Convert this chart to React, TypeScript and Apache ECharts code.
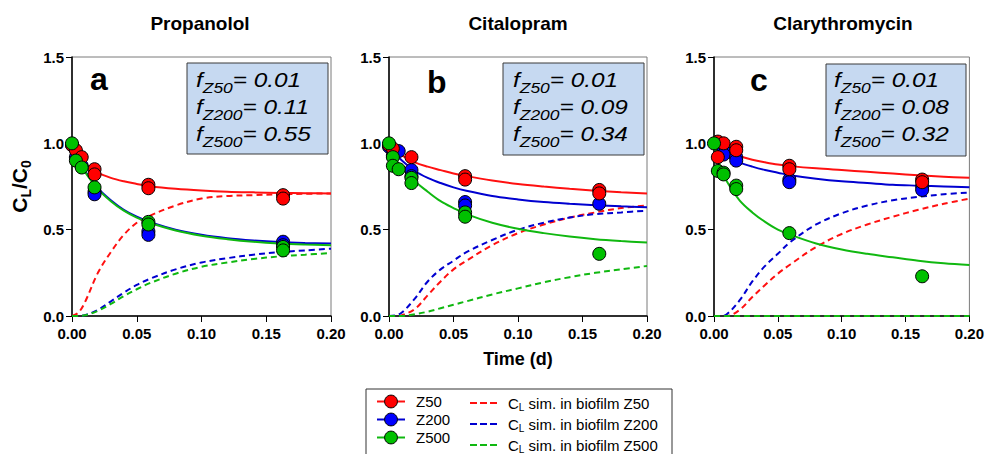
import React, { useEffect, useRef } from 'react';
import * as echarts from 'echarts';

const FONT = "'Liberation Sans', Arial, Helvetica, sans-serif";

const TITLES = ['Propanolol', 'Citalopram', 'Clarythromycin'];
const LETTERS = ['a', 'b', 'c'];
const GROUPS = ['Z50', 'Z200', 'Z500'];
const SIM_NAMES = ['CL sim. in biofilm Z50', 'CL sim. in biofilm Z200', 'CL sim. in biofilm Z500'];
const FIT_NAMES = ['Z50 fit', 'Z200 fit', 'Z500 fit'];

// f values per panel
const F_A = ['0.01', '0.11', '0.55'];
const F_B = ['0.01', '0.09', '0.34'];
const F_C = ['0.01', '0.08', '0.32'];

// measured points [time (d), CL/C0]
const PTS_A_Z50 = [[0, 0.99], [0.003, 0.96], [0.0075, 0.92], [0.0174, 0.85], [0.0174, 0.82], [0.059, 0.76], [0.059, 0.74], [0.163, 0.70], [0.163, 0.68]];
const PTS_A_Z200 = [[0, 0.99], [0.003, 0.92], [0.0075, 0.87], [0.0174, 0.72], [0.0174, 0.705], [0.059, 0.49], [0.059, 0.47], [0.163, 0.43], [0.163, 0.41]];
const PTS_A_Z500 = [[0, 1.0], [0.003, 0.90], [0.0075, 0.86], [0.0174, 0.745], [0.059, 0.545], [0.059, 0.53], [0.163, 0.40], [0.163, 0.38]];

const PTS_B_Z50 = [[0, 0.99], [0.003, 0.97], [0.0174, 0.92], [0.059, 0.81], [0.059, 0.79], [0.163, 0.73], [0.163, 0.71]];
const PTS_B_Z200 = [[0, 0.98], [0.003, 0.93], [0.0075, 0.955], [0.0174, 0.845], [0.0174, 0.81], [0.059, 0.66], [0.059, 0.64], [0.163, 0.65]];
const PTS_B_Z500 = [[0, 1.0], [0.003, 0.92], [0.003, 0.87], [0.0075, 0.85], [0.0174, 0.80], [0.0174, 0.77], [0.059, 0.60], [0.059, 0.575], [0.163, 0.36]];

const PTS_C_Z50 = [[0.003, 1.01], [0.0075, 1.0], [0.003, 0.92], [0.0174, 0.98], [0.0174, 0.96], [0.059, 0.87], [0.059, 0.85], [0.163, 0.79], [0.163, 0.775]];
const PTS_C_Z200 = [[0.0075, 0.96], [0.0075, 0.935], [0.0174, 0.92], [0.0174, 0.90], [0.059, 0.79], [0.059, 0.775], [0.163, 0.75], [0.163, 0.73]];
const PTS_C_Z500 = [[0, 1.0], [0.003, 0.84], [0.0075, 0.83], [0.0075, 0.82], [0.0174, 0.755], [0.0174, 0.735], [0.059, 0.48], [0.163, 0.23]];

// model curves at these times
const FT = [0, 0.005, 0.01, 0.02, 0.03, 0.04, 0.05, 0.06, 0.08, 0.10, 0.12, 0.14, 0.16, 0.18, 0.20];

const FIT_A_Z50 = [1, 0.93, 0.88, 0.83, 0.80, 0.78, 0.765, 0.752, 0.737, 0.727, 0.72, 0.716, 0.713, 0.711, 0.71];
const FIT_A_Z200 = [1, 0.905, 0.84, 0.74, 0.67, 0.615, 0.575, 0.545, 0.50, 0.47, 0.45, 0.437, 0.428, 0.423, 0.42];
const FIT_A_Z500 = [1, 0.90, 0.835, 0.735, 0.665, 0.61, 0.57, 0.54, 0.495, 0.465, 0.445, 0.43, 0.42, 0.414, 0.41];
const SIM_A_Z50 = [0, 0.02, 0.08, 0.25, 0.37, 0.47, 0.54, 0.58, 0.64, 0.68, 0.695, 0.70, 0.705, 0.708, 0.71];
const SIM_A_Z200 = [0, 0, 0.005, 0.035, 0.085, 0.135, 0.18, 0.215, 0.27, 0.31, 0.335, 0.355, 0.37, 0.38, 0.39];
const SIM_A_Z500 = [0, 0, 0.004, 0.03, 0.07, 0.115, 0.155, 0.19, 0.245, 0.285, 0.31, 0.33, 0.345, 0.355, 0.365];

const FIT_B_Z50 = [1, 0.96, 0.93, 0.89, 0.865, 0.845, 0.825, 0.81, 0.785, 0.765, 0.75, 0.737, 0.726, 0.717, 0.71];
const FIT_B_Z200 = [1, 0.94, 0.90, 0.84, 0.80, 0.77, 0.745, 0.725, 0.695, 0.675, 0.66, 0.65, 0.642, 0.635, 0.63];
const FIT_B_Z500 = [1, 0.91, 0.86, 0.78, 0.72, 0.665, 0.625, 0.59, 0.54, 0.505, 0.48, 0.46, 0.445, 0.434, 0.425];
const SIM_B_Z50 = [0, 0, 0.005, 0.04, 0.12, 0.20, 0.27, 0.32, 0.41, 0.48, 0.53, 0.57, 0.60, 0.625, 0.64];
const SIM_B_Z200 = [0, 0.003, 0.02, 0.10, 0.20, 0.27, 0.32, 0.37, 0.44, 0.50, 0.54, 0.57, 0.59, 0.60, 0.61];
const SIM_B_Z500 = [0, 0, 0, 0.01, 0.025, 0.045, 0.065, 0.085, 0.125, 0.16, 0.195, 0.225, 0.25, 0.27, 0.29];

const FIT_C_Z50 = [1, 0.97, 0.95, 0.925, 0.905, 0.89, 0.877, 0.868, 0.855, 0.845, 0.835, 0.825, 0.815, 0.807, 0.80];
const FIT_C_Z200 = [1, 0.95, 0.925, 0.89, 0.865, 0.845, 0.83, 0.815, 0.795, 0.78, 0.77, 0.76, 0.755, 0.75, 0.745];
const FIT_C_Z500 = [1, 0.86, 0.78, 0.67, 0.60, 0.545, 0.50, 0.47, 0.42, 0.385, 0.36, 0.34, 0.32, 0.305, 0.295];
const SIM_C_Z50 = [0, 0, 0, 0.035, 0.11, 0.18, 0.245, 0.30, 0.40, 0.475, 0.53, 0.575, 0.615, 0.65, 0.68];
const SIM_C_Z200 = [0, 0, 0.01, 0.09, 0.20, 0.29, 0.36, 0.43, 0.53, 0.595, 0.64, 0.67, 0.69, 0.705, 0.715];
const SIM_C_Z500 = [0, 0, 0, 0, 0, 0, 0, 0, 0, 0, 0, 0, 0, 0, 0];

const MARKER_COLORS = ['#ff0000', '#0000ff', '#00c000'];
const LINE_COLORS = ['#ff1010', '#0000d0', '#10b810'];

const PANELS = [
  { pts: [PTS_A_Z50, PTS_A_Z200, PTS_A_Z500], fit: [FIT_A_Z50, FIT_A_Z200, FIT_A_Z500], sim: [SIM_A_Z50, SIM_A_Z200, SIM_A_Z500], f: F_A },
  { pts: [PTS_B_Z50, PTS_B_Z200, PTS_B_Z500], fit: [FIT_B_Z50, FIT_B_Z200, FIT_B_Z500], sim: [SIM_B_Z50, SIM_B_Z200, SIM_B_Z500], f: F_B },
  { pts: [PTS_C_Z50, PTS_C_Z200, PTS_C_Z500], fit: [FIT_C_Z50, FIT_C_Z200, FIT_C_Z500], sim: [SIM_C_Z50, SIM_C_Z200, SIM_C_Z500], f: F_C },
];

// layout
const GRID_BOXES = [
  { left: 72, top: 57, width: 259, height: 259 },
  { left: 389, top: 57, width: 258, height: 259 },
  { left: 714, top: 57, width: 257, height: 259 },
];
const TITLE_X = [200, 518, 843];
const LETTER_POS = [[90, 79], [427, 82], [750, 80]];
const BOXES = [[187, 63, 141, 91], [503, 63, 141, 92], [826, 64, 140, 92]];
const BOX_TEXT = [[196, 66], [513, 66], [834, 66]];

export default function App() {
  const ref = useRef<HTMLDivElement>(null);
  useEffect(() => {
    if (!ref.current) return;
    const chart = echarts.init(ref.current, undefined, { renderer: 'svg' });

    const grid = GRID_BOXES.map((g) => ({ ...g, show: true, borderColor: '#7a7a7a', borderWidth: 1, backgroundColor: 'transparent' }));

    const xAxis = GRID_BOXES.map((_, i) => ({
      type: 'value', gridIndex: i, min: 0, max: 0.2, interval: 0.05,
      axisLine: { show: true, onZero: false, lineStyle: { color: '#000', width: 1.5 } },
      axisTick: { show: true, length: 6, lineStyle: { color: '#000', width: 1 } },
      axisLabel: { formatter: (v: number) => v.toFixed(2), fontSize: 15, fontWeight: 'bold', color: '#000', fontFamily: FONT, margin: 10 },
      splitLine: { show: false },
      name: i === 1 ? 'Time (d)' : '', nameLocation: 'middle', nameGap: 34,
      nameTextStyle: { fontSize: 18, fontWeight: 'bold', color: '#000', fontFamily: FONT },
    }));

    const yAxis = GRID_BOXES.map((_, i) => ({
      type: 'value', gridIndex: i, min: 0, max: 1.5, interval: 0.5,
      axisLine: { show: true, onZero: false, lineStyle: { color: '#000', width: 1.5 } },
      axisTick: { show: true, length: 6, lineStyle: { color: '#000', width: 1 } },
      axisLabel: { formatter: (v: number) => v.toFixed(1), fontSize: 15, fontWeight: 'bold', color: '#000', fontFamily: FONT, margin: 8 },
      splitLine: { show: false },
      name: i === 0 ? '{m|C}{s|L}{m|/C}{s|0}' : '', nameLocation: 'middle', nameGap: 40, nameRotate: 90,
      nameTextStyle: {
        fontFamily: FONT, color: '#000',
        rich: {
          m: { fontSize: 21, fontWeight: 'bold', fontFamily: FONT, color: '#000', lineHeight: 26 },
          s: { fontSize: 14, fontWeight: 'bold', fontFamily: FONT, color: '#000', lineHeight: 12, padding: [14, 0, 0, 0] },
        },
      },
    }));

    const series: any[] = [];
    PANELS.forEach((p, gi) => {
      [0, 1, 2].forEach((k) => {
        series.push({
          name: SIM_NAMES[k], type: 'line', xAxisIndex: gi, yAxisIndex: gi,
          data: FT.map((t, j) => [t, p.sim[k][j]]),
          smooth: 0.35, showSymbol: false, symbol: 'none', z: 2,
          lineStyle: { color: LINE_COLORS[k], width: 2, type: [6, 4] },
          itemStyle: { color: LINE_COLORS[k], borderWidth: 0 },
          emphasis: { disabled: true }, silent: true,
        });
      });
      [0, 1, 2].forEach((k) => {
        series.push({
          name: FIT_NAMES[k], type: 'line', xAxisIndex: gi, yAxisIndex: gi,
          data: FT.map((t, j) => [t, p.fit[k][j]]),
          smooth: 0.35, showSymbol: false, symbol: 'none', z: 3,
          lineStyle: { color: LINE_COLORS[k], width: 2 },
          itemStyle: { color: LINE_COLORS[k] },
          emphasis: { disabled: true }, silent: true,
        });
      });
      [1, 0, 2].forEach((k) => {
        series.push({
          name: GROUPS[k], type: 'line', xAxisIndex: gi, yAxisIndex: gi,
          data: p.pts[k],
          symbol: 'circle', symbolSize: 13, showSymbol: true, showAllSymbol: true, z: 5,
          lineStyle: { color: LINE_COLORS[k], width: 2, opacity: 0 },
          itemStyle: { color: MARKER_COLORS[k], borderColor: '#000', borderWidth: 1 },
          emphasis: { disabled: true }, silent: true,
        });
      });
    });

    const boxRich = {
      f: { fontSize: 21, fontStyle: 'italic', fontFamily: FONT, fill: '#000', lineHeight: 27 },
      s: { fontSize: 15, fontStyle: 'italic', fontFamily: FONT, fill: '#000', lineHeight: 10, padding: [15, 0, 0, 0] },
    };

    const graphic: any[] = [
      {
        type: 'rect', z: 1, silent: true,
        shape: { x: 366, y: 389, width: 306, height: 80 },
        style: { fill: '#fff', stroke: '#333', lineWidth: 1 },
      },
    ];
    PANELS.forEach((p, i) => {
      graphic.push({
        type: 'text', silent: true, z: 20, x: LETTER_POS[i][0], y: LETTER_POS[i][1],
        style: { text: LETTERS[i], fontSize: 32, fontWeight: 'bold', fontFamily: FONT, fill: '#000', verticalAlign: 'middle', align: 'left' },
      });
      graphic.push({
        type: 'rect', silent: true, z: 20,
        shape: { x: BOXES[i][0], y: BOXES[i][1], width: BOXES[i][2], height: BOXES[i][3] },
        style: { fill: '#c6d9f1', stroke: '#3a3a3a', lineWidth: 1 },
      });
      graphic.push({
        type: 'group', x: BOX_TEXT[i][0], y: BOX_TEXT[i][1], scaleX: 1.16, z: 21, silent: true,
        children: [{
          type: 'text', x: 0, y: 0, z: 21,
          style: {
            text: GROUPS.map((g, k) => `{f|f}{s|${g}}{f|= ${p.f[k]}}`).join('\n'),
            rich: boxRich, fontFamily: FONT, fontSize: 21, fill: '#000', verticalAlign: 'top', align: 'left',
          },
        }],
      });
    });

    const option: any = {
      animation: false,
      backgroundColor: '#fff',
      title: TITLES.map((t, i) => ({
        text: t, left: TITLE_X[i], top: 14, textAlign: 'center', padding: 0,
        textStyle: { fontSize: 19, fontWeight: 'bold', color: '#000', fontFamily: FONT },
      })),
      grid, xAxis, yAxis, series, graphic,
      legend: [
        {
          orient: 'vertical', left: 376, top: 394, height: 120, itemWidth: 28, itemHeight: 16, itemGap: 3,
          padding: 0, selectedMode: false, z: 10,
          data: GROUPS.map((n) => ({ name: n, lineStyle: { opacity: 1, width: 2, type: 'solid' } })),
          itemStyle: { borderWidth: 1, borderColor: '#000' },
          formatter: (n: string) => `{n|${n}}`,
          textStyle: {
            fontFamily: FONT, fontSize: 15, color: '#000',
            rich: { n: { fontFamily: FONT, fontSize: 15, color: '#000', padding: [0, 0, 0, 6] } },
          },
        },
        {
          orient: 'vertical', left: 470, top: 394, height: 120, itemWidth: 27, itemHeight: 2.5, itemGap: 3,
          padding: 0, selectedMode: false, z: 10,
          data: SIM_NAMES.map((n) => ({ name: n, icon: 'path://M0,0h7v2h-7z M10,0h7v2h-7z M20,0h7v2h-7z' })),
          itemStyle: { borderWidth: 0 },
          formatter: (n: string) => `{c|${n.slice(0, 1)}}{s|${n.slice(1, 2)}}{m|${n.slice(2)}}`,
          textStyle: {
            fontFamily: FONT, fontSize: 15, color: '#000',
            rich: {
              c: { fontFamily: FONT, fontSize: 15, color: '#000', lineHeight: 16, padding: [0, 0, 0, 6] },
              s: { fontFamily: FONT, fontSize: 10, color: '#000', lineHeight: 8, padding: [8, 0, 0, 0] },
              m: { fontFamily: FONT, fontSize: 15, color: '#000', lineHeight: 16 },
            },
          },
        },
      ],
    };

    chart.setOption(option);
    return () => chart.dispose();
  }, []);

  return <div ref={ref} style={{ position: 'fixed', left: 0, top: 0, width: 987, height: 454, background: '#fff' }} />;
}
